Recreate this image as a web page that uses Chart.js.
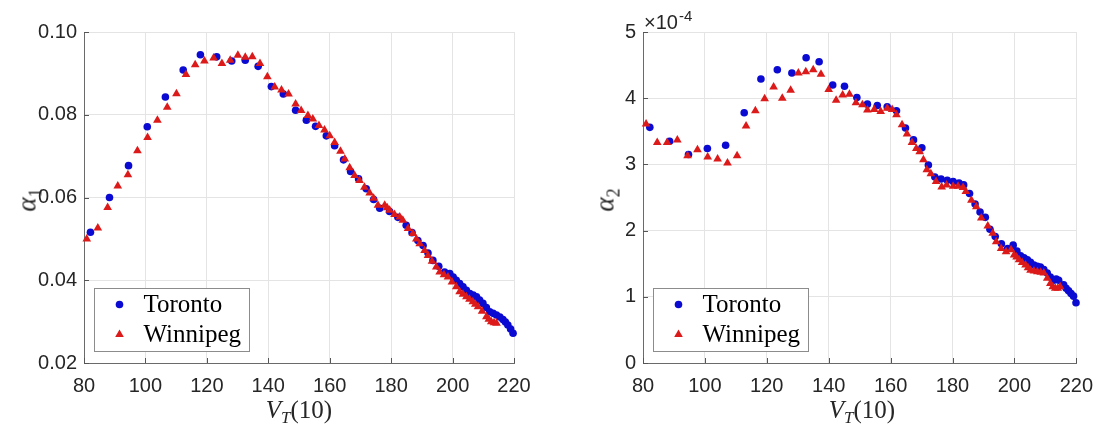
<!DOCTYPE html>
<html>
<head>
<meta charset="utf-8">
<script src="https://cdn.jsdelivr.net/npm/chart.js@4/dist/chart.umd.min.js"></script>
<style>
  html, body { margin: 0; padding: 0; background: #fff; }
  #wrap { position: relative; width: 1104px; height: 427px; overflow: hidden; }
  canvas { position: absolute; top: 0; }
  .lbl { position: absolute; color: #262626; white-space: nowrap; line-height: 1; }
  .math { font-family: 'Liberation Serif', 'DejaVu Serif', serif; }
  .it { font-style: italic; }
  .sans { font-family: 'Liberation Sans', Arial, sans-serif; }
</style>
</head>
<body>
<div id="wrap">
  <canvas id="c1" width="552" height="427" style="left:0"></canvas>
  <canvas id="c2" width="552" height="427" style="left:552px"></canvas>

  <!-- axis titles -->
  <div class="lbl math" style="left:27px;top:200px;font-size:27px;transform:translate(-50%,-50%) rotate(-90deg);"><span class="it">α</span><span style="font-size:18px;position:relative;top:6px;">1</span></div>
  <div class="lbl math" style="left:605px;top:200px;font-size:27px;transform:translate(-50%,-50%) rotate(-90deg);"><span class="it">α</span><span style="font-size:18px;position:relative;top:6px;">2</span></div>
  <div class="lbl math" style="left:299px;top:409px;font-size:25px;transform:translate(-50%,-50%);"><span class="it">V</span><span class="it" style="font-size:17px;position:relative;top:5px;">T</span>(10)</div>
  <div class="lbl math" style="left:862px;top:409px;font-size:25px;transform:translate(-50%,-50%);"><span class="it">V</span><span class="it" style="font-size:17px;position:relative;top:5px;">T</span>(10)</div>
  <!-- exponent of the right y axis -->
  <div class="lbl sans" style="left:644px;top:12px;font-size:20px;">×10<span style="font-size:15px;position:relative;top:-8px;margin-left:1px;">-4</span></div>
</div>

<script>
// ---- α1 versus V_T(10) ----
const torontoX1 = [82.1, 88.3, 94.5, 100.6, 106.5, 112.3, 117.9, 123.2, 128.1, 132.5,
  136.7, 141.0, 144.9, 148.9, 152.4, 155.4, 158.9, 161.6, 164.5, 166.8,
  169.4, 171.9, 174.3, 176.3, 179.5, 182.2, 184.9, 186.8, 188.7, 190.4,
  192.0, 193.6, 195.5, 197.4, 199.1, 200.2, 201.2, 202.3, 203.4, 204.5,
  205.6, 206.7, 207.8, 208.8, 209.9, 211.0, 212.1, 213.2, 214.3, 215.4,
  216.4, 217.2, 218.0, 218.9, 219.7];
const torontoA1 = [0.0516, 0.0600, 0.0677, 0.0771, 0.0843, 0.0908, 0.0945, 0.0940, 0.0930, 0.0932,
  0.0917, 0.0868, 0.0850, 0.0811, 0.0787, 0.0772, 0.0749, 0.0725, 0.0691, 0.0663,
  0.0645, 0.0621, 0.0595, 0.0574, 0.0566, 0.0552, 0.0533, 0.0515, 0.0496, 0.0484,
  0.0466, 0.0448, 0.0434, 0.0420, 0.0416, 0.0408, 0.0400, 0.0392, 0.0384, 0.0376,
  0.0368, 0.0364, 0.0360, 0.0352, 0.0344, 0.0334, 0.0324, 0.0320, 0.0316, 0.0311,
  0.0305, 0.0299, 0.0292, 0.0282, 0.0272];
const winnipegX1 = [80.9, 84.5, 87.7, 91.0, 94.3, 97.4, 100.7, 103.9, 107.1, 110.1,
  113.2, 116.2, 119.2, 122.2, 124.9, 127.6, 130.1, 132.5, 134.8, 137.3,
  139.7, 142.1, 144.3, 146.6, 148.9, 150.7, 152.9, 154.5, 156.5, 158.3,
  160.0, 161.6, 163.5, 164.9, 166.5, 168.1, 169.7, 171.3, 173.0, 174.3,
  175.7, 177.9, 178.7, 179.5, 181.1, 182.8, 183.8, 185.5, 187.1, 188.2,
  189.3, 190.9, 192.0, 193.3, 194.7, 195.8, 197.2, 198.5, 199.8, 201.2,
  202.3, 203.4, 204.5, 205.5, 206.6, 207.4, 208.3, 209.6, 211.0, 211.8,
  212.6, 213.5, 214.3];
const winnipegA1 = [0.0500, 0.0526, 0.0576, 0.0628, 0.0655, 0.0713, 0.0745, 0.0787, 0.0818, 0.0851,
  0.0897, 0.0921, 0.0930, 0.0937, 0.0924, 0.0932, 0.0944, 0.0939, 0.0940, 0.0924,
  0.0892, 0.0867, 0.0860, 0.0850, 0.0826, 0.0810, 0.0798, 0.0790, 0.0774, 0.0763,
  0.0749, 0.0733, 0.0712, 0.0693, 0.0672, 0.0653, 0.0641, 0.0625, 0.0611, 0.0598,
  0.0581, 0.0581, 0.0575, 0.0569, 0.0559, 0.0553, 0.0545, 0.0525, 0.0513, 0.0500,
  0.0488, 0.0472, 0.0460, 0.0446, 0.0432, 0.0420, 0.0413, 0.0408, 0.0396, 0.0384,
  0.0372, 0.0366, 0.0360, 0.0354, 0.0348, 0.0342, 0.0336, 0.0325, 0.0312, 0.0306,
  0.0300, 0.0297, 0.0296];

// ---- α2 versus V_T(10), values in units of 1e-4 ----
const torontoX2 = [82.2, 88.6, 94.7, 100.8, 106.7, 112.7, 118.1, 123.4, 128.1, 132.7,
  136.9, 141.3, 145.1, 149.1, 152.5, 155.7, 158.9, 161.9, 164.8, 167.4,
  170.1, 172.2, 174.3, 176.3, 178.3, 180.2, 182.1, 183.6, 185.5, 187.3,
  188.9, 190.6, 192.1, 193.8, 195.8, 197.8, 199.6, 200.8, 202.0, 203.1,
  204.2, 205.2, 206.3, 207.4, 208.4, 209.5, 210.6, 211.6, 212.7, 213.5,
  214.3, 215.9, 216.7, 217.5, 218.3, 219.1, 219.9];
const torontoA2 = [3.56, 3.35, 3.15, 3.24, 3.29, 3.78, 4.29, 4.43, 4.38, 4.61,
  4.55, 4.20, 4.18, 4.01, 3.91, 3.89, 3.87, 3.81, 3.55, 3.37,
  3.25, 2.99, 2.81, 2.78, 2.76, 2.74, 2.72, 2.69, 2.56, 2.40,
  2.28, 2.20, 2.02, 1.91, 1.80, 1.73, 1.78, 1.69, 1.62, 1.59,
  1.56, 1.52, 1.48, 1.46, 1.45, 1.41, 1.36, 1.30, 1.25, 1.27,
  1.25, 1.18, 1.13, 1.09, 1.05, 1.01, 0.91];
const winnipegX2 = [81.0, 84.6, 87.8, 91.1, 94.4, 97.6, 100.9, 104.1, 107.3, 110.4,
  113.3, 116.3, 119.3, 122.2, 125.0, 127.7, 130.2, 132.6, 135.0, 137.5,
  140.0, 142.4, 144.5, 146.7, 148.8, 150.9, 152.5, 154.7, 156.8, 158.9,
  160.5, 161.9, 163.7, 165.3, 166.9, 168.3, 169.4, 170.6, 171.7, 173.0,
  174.7, 176.5, 178.1, 180.2, 181.8, 183.4, 184.3, 186.1, 187.7, 189.3,
  191.4, 193.0, 194.1, 195.7, 197.3, 198.9, 199.9, 200.7, 201.5, 202.5,
  203.6, 204.4, 205.2, 206.3, 207.4, 208.5, 209.5, 210.6, 211.6, 212.4,
  213.2, 214.0, 214.8];
const winnipegA2 = [3.61, 3.33, 3.33, 3.37, 3.13, 3.22, 3.11, 3.08, 3.02, 3.13,
  3.58, 3.81, 3.99, 4.17, 4.00, 4.12, 4.38, 4.40, 4.43, 4.36,
  4.13, 3.97, 4.05, 4.06, 3.93, 3.90, 3.82, 3.83, 3.80, 3.85,
  3.83, 3.75, 3.60, 3.46, 3.33, 3.24, 3.19, 3.07, 2.92, 2.86,
  2.74, 2.66, 2.69, 2.67, 2.67, 2.65, 2.59, 2.46, 2.36, 2.19,
  2.07, 1.96, 1.83, 1.73, 1.68, 1.71, 1.63, 1.60, 1.56, 1.52,
  1.48, 1.44, 1.40, 1.39, 1.38, 1.37, 1.36, 1.28, 1.20, 1.15,
  1.13, 1.13, 1.15];

const seriesNames = ['Toronto', 'Winnipeg'];
const xTicks = [80, 100, 120, 140, 160, 180, 200, 220];
const yTicks1 = [0.02, 0.04, 0.06, 0.08, 0.10];
const yTicks2 = [0, 1, 2, 3, 4, 5];

const BLUE = '#0a0ad2';
const RED = '#dc1a1a';
const TICK_FONT = { family: "'Liberation Sans', Arial, sans-serif", size: 20 };

function zip(xs, ys) {
  const n = Math.min(xs.length, ys.length);
  const out = [];
  for (let i = 0; i < n; i++) out.push({ x: xs[i], y: ys[i] });
  return out;
}

// inward tick marks on the left and bottom axes, MATLAB style
const innerTicks = {
  id: 'innerTicks',
  beforeDatasetsDraw(chart) {
    const { ctx, chartArea: a, scales: { x, y } } = chart;
    ctx.save();
    ctx.strokeStyle = '#555';
    ctx.lineWidth = 1;
    ctx.beginPath();
    x.ticks.forEach(t => {
      const px = Math.round(x.getPixelForValue(t.value)) + 0.5;
      ctx.moveTo(px, a.bottom); ctx.lineTo(px, a.bottom - 5);
    });
    y.ticks.forEach(t => {
      const py = Math.round(y.getPixelForValue(t.value)) + 0.5;
      ctx.moveTo(a.left, py); ctx.lineTo(a.left + 5, py);
    });
    ctx.stroke();
    ctx.restore();
  }
};

// boxed legend in the lower-left corner of the plot area
const cornerLegend = {
  id: 'cornerLegend',
  afterDatasetsDraw(chart) {
    const { ctx, chartArea: a } = chart;
    const bx = Math.round(a.left + 10) + 0.5, by = Math.round(a.bottom - 75) + 0.5;
    const bw = 155, bh = 63;
    ctx.save();
    ctx.fillStyle = '#fff';
    ctx.fillRect(bx, by, bw, bh);
    ctx.strokeStyle = '#8c8c8c';
    ctx.lineWidth = 1;
    ctx.strokeRect(bx, by, bw, bh);
    [0, 1].forEach((di, row) => {
      const ds = chart.data.datasets[di];
      const cy = by + 16 + row * 30;
      ctx.fillStyle = ds.backgroundColor;
      Chart.helpers.drawPoint(ctx, {
        pointStyle: ds.pointStyle, radius: ds.pointRadius, rotation: 0, borderWidth: 0
      }, bx + 25, cy);
      ctx.fillStyle = '#000';
      ctx.font = "25px 'Liberation Serif', 'DejaVu Serif', serif";
      ctx.textBaseline = 'middle';
      ctx.textAlign = 'left';
      ctx.fillText(ds.label, bx + 49, cy + 1);
    });
    ctx.restore();
  }
};

function makePlot(id, tor, win, yMin, yMax, yTicks, fmt, axisWidth, padRight) {
  return new Chart(document.getElementById(id), {
    type: 'scatter',
    data: {
      datasets: [
        { label: seriesNames[0], data: tor, pointStyle: 'circle', pointRadius: 3.8,
          backgroundColor: BLUE, borderWidth: 0, order: 2, clip: false },
        { label: seriesNames[1], data: win, pointStyle: 'triangle', pointRadius: 5,
          backgroundColor: RED, borderWidth: 0, order: 1, clip: false }
      ]
    },
    options: {
      responsive: false,
      animation: false,
      events: [],
      layout: { padding: { top: 32, right: padRight, left: 0, bottom: 0 } },
      plugins: { legend: { display: false }, tooltip: { enabled: false } },
      scales: {
        x: {
          type: 'linear', min: xTicks[0], max: xTicks[xTicks.length - 1],
          afterBuildTicks(s) { s.ticks = xTicks.map(v => ({ value: v })); },
          ticks: { font: TICK_FONT, color: '#262626', padding: 11, maxRotation: 0, autoSkip: false,
                   callback: v => String(v) },
          grid: { color: '#e4e4e4', lineWidth: 1, drawTicks: false },
          border: { display: true, color: '#6a6a6a', width: 1 },
          afterFit(s) { s.height = 64; }
        },
        y: {
          type: 'linear', min: yMin, max: yMax,
          afterBuildTicks(s) { s.ticks = yTicks.map(v => ({ value: v })); },
          ticks: { font: TICK_FONT, color: '#262626', padding: 7, autoSkip: false, callback: fmt },
          grid: { color: '#e4e4e4', lineWidth: 1, drawTicks: false },
          border: { display: true, color: '#6a6a6a', width: 1 },
          afterFit(s) { s.width = axisWidth; }
        }
      }
    },
    plugins: [innerTicks, cornerLegend]
  });
}

makePlot('c1', zip(torontoX1, torontoA1), zip(winnipegX1, winnipegA1),
  yTicks1[0], yTicks1[yTicks1.length - 1], yTicks1, v => Number(v).toFixed(2), 84, 38);
makePlot('c2', zip(torontoX2, torontoA2), zip(winnipegX2, winnipegA2),
  yTicks2[0], yTicks2[yTicks2.length - 1], yTicks2, v => String(Math.round(v)), 91, 22);
</script>
</body>
</html>
